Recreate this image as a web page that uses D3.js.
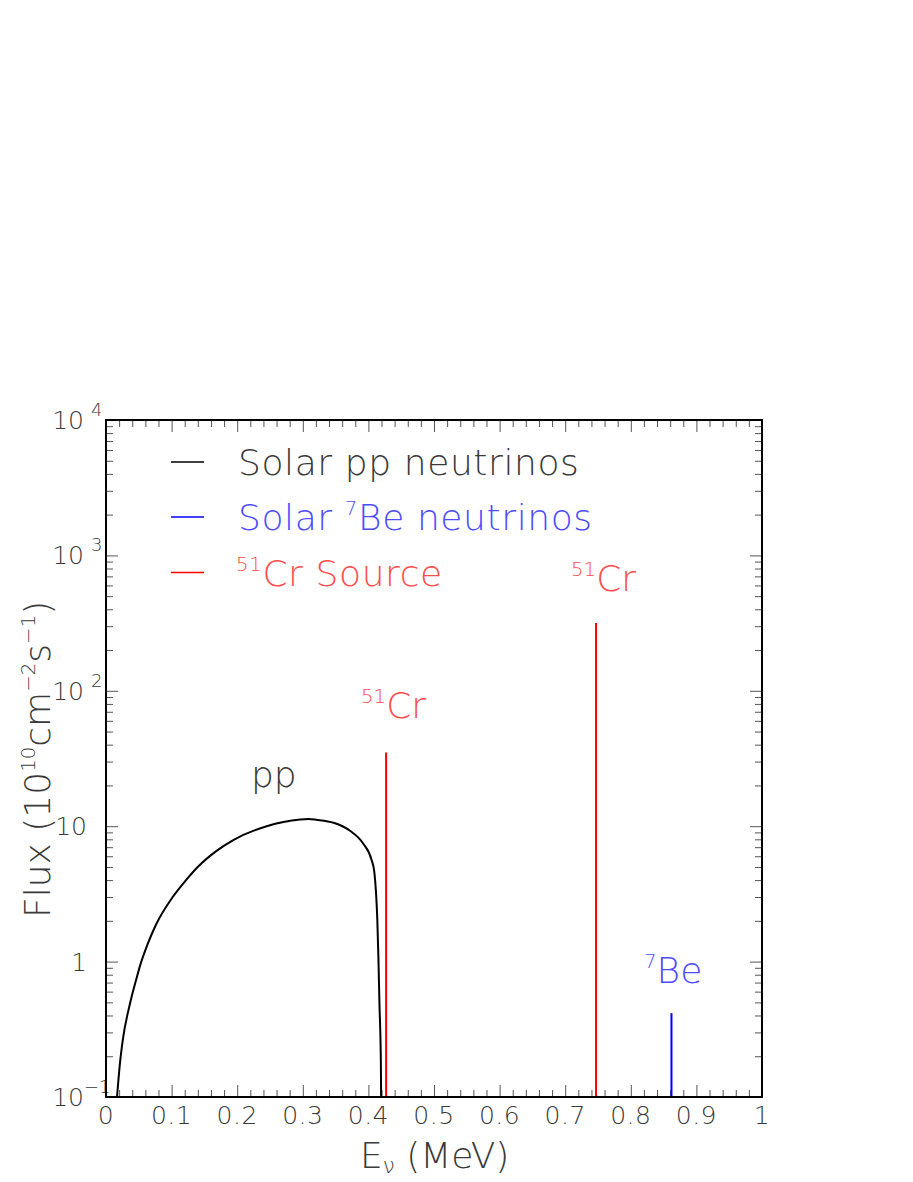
<!DOCTYPE html>
<html>
<head>
<meta charset="utf-8">
<script src="https://cdn.jsdelivr.net/npm/d3@7/dist/d3.min.js"></script>
<style>
  html, body { margin: 0; padding: 0; background: #fff; }
  svg text { font-family: "DejaVu Sans", sans-serif; font-weight: 200; }
</style>
</head>
<body>
<svg id="chart" width="913" height="1182"></svg>
<script>
// ---- data ----
const ppEnergy = [0.0168, 0.0214, 0.0254, 0.0366, 0.0468, 0.0524, 0.0636, 0.0763, 0.1017, 0.122, 0.1398, 0.168, 0.194, 0.245, 0.296, 0.309, 0.321, 0.347, 0.372, 0.392, 0.405, 0.409, 0.4115, 0.4135, 0.4152, 0.4168, 0.419, 0.4194];
const ppFlux   = [0.1,    0.18,   0.26,   0.49,   0.76,   0.95,   1.35,   1.88,   3.0,    4.0,   5.0,    6.55,  7.9,   10.0,  11.2,  11.3,  11.15, 10.6,  9.25,  7.45,  5.6,   4.6,   3.3,    2.1,    1.1,    0.5,    0.18,  0.1];
const lineNames  = ["Cr51a", "Cr51b", "Be7"];
const lineEnergy = [0.427, 0.747, 0.862];
const lineFlux   = [35, 317, 0.416];
const xTickValues = [0, 0.1, 0.2, 0.3, 0.4, 0.5, 0.6, 0.7, 0.8, 0.9, 1];
const xTickLabels = ["0", "0.1", "0.2", "0.3", "0.4", "0.5", "0.6", "0.7", "0.8", "0.9", "1"];
const yTickValues = [0.1, 1, 10, 100, 1000, 10000];
const yTickBase   = ["10", "1", "10", "10", "10", "10"];
const yTickExp    = ["−1", "", "", "2", "3", "4"];

// ---- layout ----
const svg = d3.select("#chart");
const L = 106, R = 762, T = 420, B = 1097;
const x = d3.scaleLinear().domain([0, 1]).range([L, R]);
const y = d3.scaleLog().domain([0.1, 10000]).range([B, T]);

const tickColor = "#555";
const textColor = "#3a3a3a";
const red = "#ff0000", blue = "#0000ff";
const redText = "#ff4d4d", blueText = "#4d4dff";

// minor tick values
const xMinor = d3.range(0, 1.0001, 0.02).map(v => +v.toFixed(3)).filter(v => !xTickValues.some(m => Math.abs(m - v) < 1e-6));
const yMinor = [];
for (let e = -1; e < 4; e++) for (let k = 2; k <= 9; k++) yMinor.push(k * Math.pow(10, e));

function styleAxis(g) {
  g.select(".domain").remove();
  g.selectAll(".tick line").attr("stroke", tickColor).attr("stroke-width", 1);
  g.selectAll(".tick text").remove();
}
// bottom & top
svg.append("g").attr("transform", `translate(0,${B})`).call(d3.axisBottom(x).tickValues(xTickValues).tickSize(-12)).call(styleAxis);
svg.append("g").attr("transform", `translate(0,${B})`).call(d3.axisBottom(x).tickValues(xMinor).tickSize(-7)).call(styleAxis);
svg.append("g").attr("transform", `translate(0,${T})`).call(d3.axisTop(x).tickValues(xTickValues).tickSize(-12)).call(styleAxis);
svg.append("g").attr("transform", `translate(0,${T})`).call(d3.axisTop(x).tickValues(xMinor).tickSize(-7)).call(styleAxis);
// left & right
svg.append("g").attr("transform", `translate(${L},0)`).call(d3.axisLeft(y).tickValues(yTickValues).tickSize(-12)).call(styleAxis);
svg.append("g").attr("transform", `translate(${L},0)`).call(d3.axisLeft(y).tickValues(yMinor).tickSize(-7)).call(styleAxis);
svg.append("g").attr("transform", `translate(${R},0)`).call(d3.axisRight(y).tickValues(yTickValues).tickSize(-12)).call(styleAxis);
svg.append("g").attr("transform", `translate(${R},0)`).call(d3.axisRight(y).tickValues(yMinor).tickSize(-7)).call(styleAxis);

// x tick labels
svg.append("g").selectAll("text").data(xTickValues).join("text")
  .attr("x", d => x(d)).attr("y", B + 27)
  .attr("text-anchor", "middle").attr("font-size", 25).attr("fill", textColor)
  .attr("letter-spacing", 0.5)
  .text((d, i) => xTickLabels[i]);

// y tick labels
const yl = svg.append("g").selectAll("g").data(yTickValues).join("g");
yl.each(function(d, i) {
  const g = d3.select(this);
  const hasExp = yTickExp[i] !== "";
  const baseEnd = hasExp ? 84 : 87;
  g.append("text").attr("x", baseEnd).attr("y", y(d) + 9)
    .attr("text-anchor", "end").attr("font-size", 25).attr("fill", textColor)
    .text(yTickBase[i]);
  if (hasExp) {
    g.append("text").attr("x", yTickExp[i].length > 1 ? 84 : 91).attr("y", y(d) - 4)
      .attr("text-anchor", "start").attr("font-size", 18).attr("fill", textColor)
      .text(yTickExp[i]);
  }
});

// clip
svg.append("clipPath").attr("id", "plotclip").append("rect")
  .attr("x", L).attr("y", T).attr("width", R - L).attr("height", B - T);

// pp curve
const ppData = ppEnergy.map((e, i) => [e, ppFlux[i]]);
svg.append("path").datum(ppData)
  .attr("clip-path", "url(#plotclip)")
  .attr("fill", "none").attr("stroke", "#000").attr("stroke-width", 2)
  .attr("d", d3.line().x(d => x(d[0])).y(d => y(d[1])).curve(d3.curveMonotoneX));

// mono-energetic lines
const lineColor = { Cr51a: red, Cr51b: red, Be7: blue };
svg.append("g").selectAll("line").data(lineEnergy).join("line")
  .attr("x1", d => x(d)).attr("x2", d => x(d))
  .attr("y1", y(0.1)).attr("y2", (d, i) => y(lineFlux[i]))
  .attr("stroke", (d, i) => lineColor[lineNames[i]]).attr("stroke-width", 2);

// frame
svg.append("rect").attr("x", L).attr("y", T).attr("width", R - L).attr("height", B - T)
  .attr("fill", "none").attr("stroke", "#000").attr("stroke-width", 2);

// legend
const legendColors = ["#000", blue, red];
const legendY = [462, 517, 572.5];
legendY.forEach((ly, i) => {
  svg.append("line").attr("x1", 171).attr("x2", 204).attr("y1", ly).attr("y2", ly)
    .attr("stroke", legendColors[i]).attr("stroke-width", 1.5);
});
function supText(g, xPos, yPos, parts, color, size, spacing) {
  const t = g.append("text").attr("x", xPos).attr("y", yPos).attr("fill", color).attr("font-size", size);
  if (spacing) t.attr("letter-spacing", spacing);
  parts.forEach(p => {
    const ts = t.append("tspan").text(p.t);
    if (p.sup) ts.attr("font-size", size * 0.55).attr("dy", -size * 0.42);
    else if (p.sub) ts.attr("font-size", size * 0.6).attr("dy", size * 0.15);
    if (p.down) ts.attr("dy", p.down);
  });
  return t;
}
const LS = 36;
supText(svg, 238, 475, [{t: "Solar pp neutrinos"}], textColor, LS, 0.6);
supText(svg, 238, 530, [{t: "Solar "}, {t: "7", sup: true}, {t: "Be neutrinos", down: LS * 0.42}], blueText, LS, 0.6);
supText(svg, 236, 586, [{t: "51", sup: true}, {t: "Cr Source", down: LS * 0.42}], redText, LS, 0.6);

// line labels
supText(svg, 361, 718, [{t: "51", sup: true}, {t: "Cr", down: LS * 0.42}], redText, LS);
supText(svg, 571, 591, [{t: "51", sup: true}, {t: "Cr", down: LS * 0.42}], redText, LS);
supText(svg, 644, 983, [{t: "7", sup: true}, {t: "Be", down: LS * 0.42}], blueText, LS);
svg.append("text").attr("x", 251).attr("y", 787).attr("font-size", LS).attr("fill", textColor).text("pp");

// axis titles
supText(svg, 360, 1168, [{t: "E"}, {t: "ν", sub: true}, {t: " (MeV)", down: -LS * 0.15}], textColor, LS);
const yt = svg.append("g").attr("transform", "translate(50,918) rotate(-90)");
supText(yt, 0, 0, [
  {t: "Flux (10"}, {t: "10", sup: true},
  {t: "cm", down: 36 * 0.42}, {t: "−2", sup: true},
  {t: "s", down: 36 * 0.42}, {t: "−1", sup: true},
  {t: ")", down: 36 * 0.42}
], textColor, 36);
</script>
</body>
</html>
